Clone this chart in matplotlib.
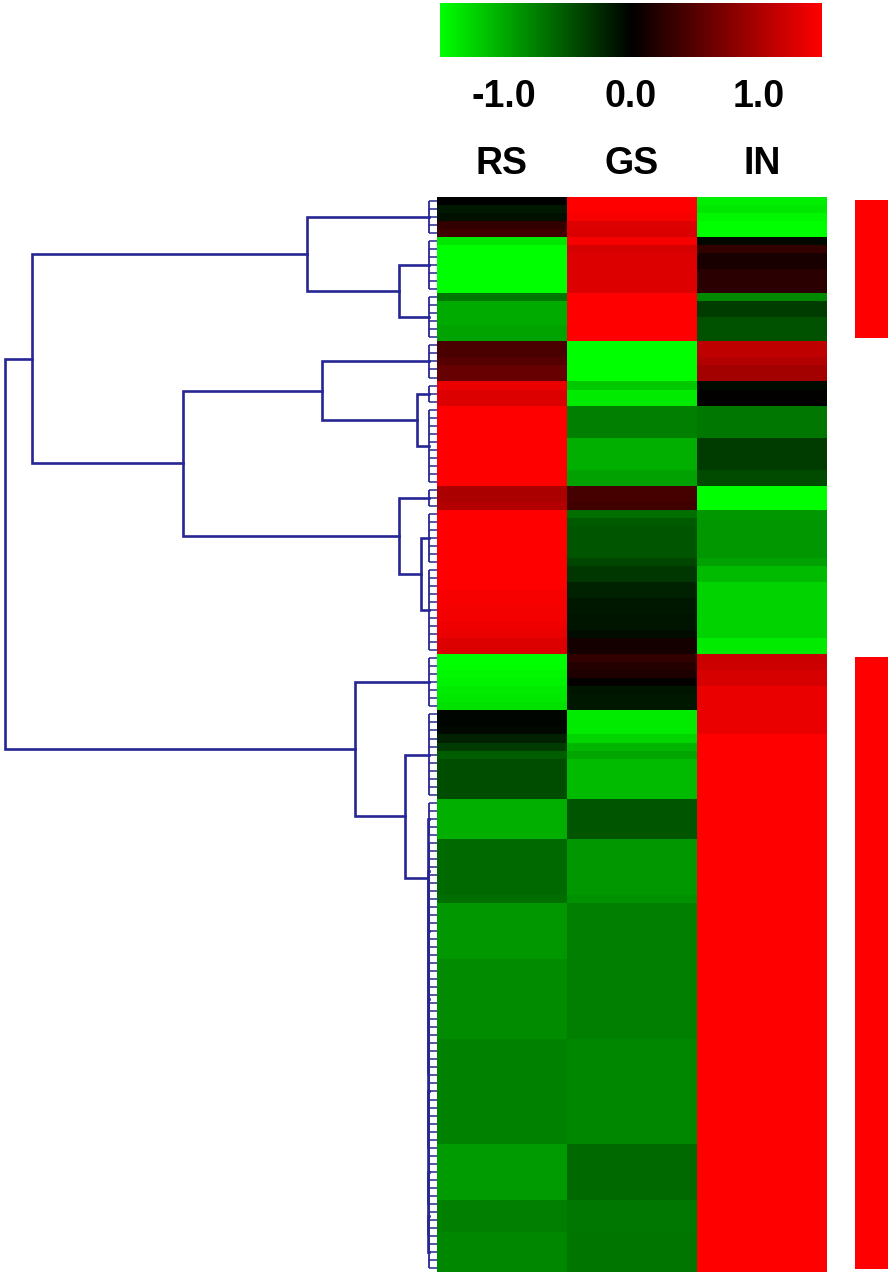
import numpy as np
import matplotlib
matplotlib.use("Agg")
import matplotlib.pyplot as plt
from matplotlib.colors import LinearSegmentedColormap, Normalize

plt.rcParams['font.family'] = ['Liberation Sans', 'DejaVu Sans']

# ---------------- data ----------------
columns = ["RS", "GS", "IN"]
cbar_ticks = [-1.0, 0.0, 1.0]
cbar_labels = ["-1.0", "0.0", "1.0"]
vmin, vmax = -1.5, 1.5

rs = ([0.0, -0.15, -0.1, 0.3, 0.38] +
      [-1.35, -1.5, -1.5, -1.5, -1.5, -1.5, -1.5] +
      [-0.7, -1.0, -1.0, -1.0, -0.95, -0.95] +
      [0.44, 0.44, 0.5, 0.6, 0.6] +
      [1.38, 1.3, 1.3] +
      [1.5] * 10 +
      [1.0, 1.0, 1.05] +
      [1.5] * 10 + [1.45, 1.45, 1.42, 1.42, 1.4, 1.38, 1.3, 1.28] +
      [-1.5, -1.48, -1.45, -1.42, -1.38, -1.35, -1.32] +
      [-0.03, -0.03, -0.05, -0.2, -0.35, -0.55, -0.45, -0.45, -0.45, -0.45, -0.45] +
      [-1.03] * 5 + [-0.62] * 7 + [-0.65] + [-0.88] * 7 + [-0.81] * 10 +
      [-0.76] * 13 + [-0.91] * 7 + [-0.74] * 4 + [-0.79] * 5)

gs = ([1.5, 1.5, 1.45, 1.3, 1.28] +
      [1.45, 1.25, 1.3, 1.3, 1.3, 1.3, 1.3] +
      [1.5] * 6 +
      [-1.5] * 5 +
      [-1.18, -1.38, -1.38] +
      [-0.74, -0.74, -0.74, -0.74, -1.03, -1.03, -1.03, -1.03, -0.94, -0.94] +
      [0.41, 0.4, 0.38] +
      [-0.65, -0.53, -0.5, -0.5, -0.5, -0.5, -0.41, -0.32, -0.32, -0.2, -0.2,
       -0.15, -0.15, -0.12, -0.12, -0.08, 0.12, 0.12] +
      [0.3, 0.22, 0.18, 0.03, -0.12, -0.15, -0.15] +
      [-1.38, -1.38, -1.38, -1.25, -1.06, -0.97, -1.09, -1.09, -1.09, -1.09, -1.09] +
      [-0.5] * 5 + [-0.88] * 7 + [-0.85] + [-0.74] * 7 + [-0.74] * 10 +
      [-0.79] * 13 + [-0.62] * 7 + [-0.7] * 4 + [-0.68] * 5)

inn = ([-1.4, -1.35, -1.45, -1.5, -1.5] +
       [-0.05, 0.3, 0.15, 0.15, 0.25, 0.25, 0.25] +
       [-0.8, -0.35, -0.35, -0.47, -0.47, -0.47] +
       [1.12, 1.12, 1.05, 0.95, 0.95] +
       [-0.07, 0.02, 0.02] +
       [-0.7, -0.7, -0.7, -0.7, -0.35, -0.35, -0.35, -0.35, -0.44, -0.44] +
       [-1.5, -1.5, -1.5] +
       [-0.88] * 6 + [-0.94, -1.09, -1.09] + [-1.24] * 7 + [-1.38, -1.38] +
       [1.18, 1.2, 1.26, 1.26, 1.38, 1.38, 1.38] +
       [1.38, 1.38, 1.38] + [1.5] * 8 +
       [1.5] * 59)

# dendrogram: leaf blocks (row counts, top to bottom) and merges (child, child, height)
leaf_blocks = [5, 7, 6, 5, 3, 10, 3, 7, 11, 7, 11, 5, 8, 7, 10, 13, 7, 4, 5]
leaf_height = 0.0185
merges = [
    (1, 2, 0.088),     # 19
    (0, 19, 0.300),    # 20
    (4, 5, 0.046),     # 21
    (3, 21, 0.266),    # 22
    (7, 8, 0.037),     # 23
    (6, 23, 0.088),    # 24
    (22, 24, 0.588),   # 25
    (20, 25, 0.9375),  # 26
    (17, 18, 0.02),    # 27
    (16, 27, 0.02),    # 28
    (15, 28, 0.02),    # 29
    (14, 29, 0.02),    # 30
    (13, 30, 0.02),    # 31
    (12, 31, 0.02),    # 32
    (11, 32, 0.02),    # 33
    (10, 33, 0.074),   # 34
    (9, 34, 0.19),     # 35
    (26, 35, 1.0),     # 36
]

# side bars: (first row, last row exclusive)
side_bars = [(0, 18), (57, 134)]

# ---------------- figure ----------------
W, H = 894, 1278
fig = plt.figure(figsize=(W / 100, H / 100), dpi=100)

def fax(x0, y0, x1, y1):
    return fig.add_axes([x0 / W, 1 - y1 / H, (x1 - x0) / W, (y1 - y0) / H])

cmap = LinearSegmentedColormap.from_list("gbr", ["#00ff00", "#000000", "#ff0000"])
norm = Normalize(vmin=vmin, vmax=vmax)

data = np.column_stack([rs, gs, inn])
N = data.shape[0]

hm_top, hm_bot = 197, 1272
# heatmap
ax = fax(437, hm_top, 827, hm_bot)
ax.imshow(data, aspect='auto', cmap=cmap, norm=norm, interpolation='nearest',
          extent=(0, 3, N, 0))
ax.set_xlim(0, 3)
ax.set_ylim(N, 0)
ax.xaxis.tick_top()
ax.set_xticks([0.5, 1.5, 2.5])
ax.set_xticklabels(columns, fontsize=27, fontweight='bold')
ax.tick_params(axis='x', length=0, pad=11)
ax.set_yticks([])
for s in ax.spines.values():
    s.set_visible(False)

# dendrogram
dax = fax(0, hm_top, 437, hm_bot)
dcol = '#262694'
lw_main = 1.9
starts = np.concatenate([[0], np.cumsum(leaf_blocks)[:-1]])
node_y = []
node_h = []
for st, n in zip(starts, leaf_blocks):
    centers = st + 0.5 + np.arange(n)
    dax.plot([leaf_height, leaf_height], [centers[0], centers[-1]], color=dcol, lw=1.3,
             solid_capstyle='butt')
    for c in centers:
        dax.plot([0, leaf_height], [c, c], color=dcol, lw=1.1, solid_capstyle='butt')
    node_y.append(centers.mean())
    node_h.append(leaf_height)
for a, b, h in merges:
    ya, yb = node_y[a], node_y[b]
    dax.plot([node_h[a], h, h, node_h[b]], [ya, ya, yb, yb], color=dcol, lw=lw_main,
             solid_joinstyle='miter')
    node_y.append((ya + yb) / 2)
    node_h.append(h)
dax.set_xlim(437 / 432, 0)
dax.set_ylim(N, 0)
dax.axis('off')

# side bars
sax = fax(855, hm_top, 888, hm_bot)
for a, b in side_bars:
    sax.barh((a + b) / 2, 1, height=(b - a) - 0.8, left=0, color='#ff0000')
sax.set_xlim(0, 1)
sax.set_ylim(N, 0)
sax.axis('off')

# colorbar
cax = fax(440, 3, 822, 57)
sm = plt.cm.ScalarMappable(norm=norm, cmap=cmap)
cb = fig.colorbar(sm, cax=cax, orientation='horizontal')
cb.outline.set_visible(False)
cb.set_ticks(cbar_ticks)
cb.set_ticklabels(cbar_labels)
cax.tick_params(axis='x', length=0, pad=16, labelsize=27)
for t in cax.get_xticklabels():
    t.set_fontweight('bold')

fig.savefig("out.png", dpi=100)
